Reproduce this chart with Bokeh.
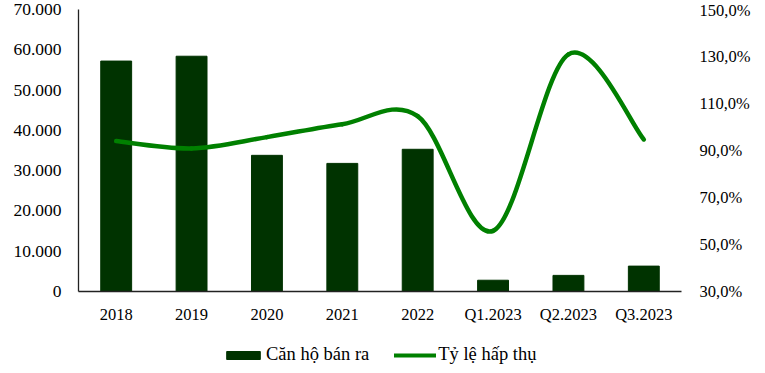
from bokeh.plotting import figure
from bokeh.layouts import column
from bokeh.models import (Range1d, LinearAxis, FixedTicker, Legend, LegendItem,
                          CustomJSTickFormatter, ColumnDataSource)
from bokeh.embed import file_html
from bokeh.resources import INLINE

categories = ["2018", "2019", "2020", "2021", "2022", "Q1.2023", "Q2.2023", "Q3.2023"]
units_sold = [57200, 58400, 33800, 31800, 35300, 2800, 4000, 6300]
absorption = [94.0, 90.9, 95.7, 101.2, 104.6, 55.8, 130.9, 94.7]
left_ticks = [0, 10000, 20000, 30000, 40000, 50000, 60000, 70000]
right_ticks = [30, 50, 70, 90, 110, 130, 150]
series_names = ["Căn hộ bán ra", "Tỷ lệ hấp thụ"]

FONT = "Liberation Serif"
BAR_COLOR = "#003300"
LINE_COLOR = "#008000"

xs = [i + 0.5 for i in range(len(categories))]

p = figure(width=765, height=335, output_backend="svg", toolbar_location=None,
           x_range=Range1d(0, len(categories)), y_range=Range1d(0, 70000),
           min_border_left=78, min_border_right=84, min_border_top=9, min_border_bottom=44)
p.outline_line_color = None
p.grid.visible = False
p.background_fill_color = "white"
p.border_fill_color = "white"

p.extra_y_ranges = {"pct": Range1d(30, 150)}

bar_src = ColumnDataSource(dict(x=xs, top=units_sold))
bars = p.vbar(x="x", top="top", width=0.41, source=bar_src, fill_color=BAR_COLOR,
              line_color=BAR_COLOR)

# smoothed line (Catmull-Rom style Bezier segments through the data points)
n = len(absorption)
bx0, by0, bx1, by1, cx0, cy0, cx1, cy1 = [], [], [], [], [], [], [], []
for i in range(n - 1):
    xp, yp = (xs[i - 1], absorption[i - 1]) if i > 0 else (xs[i], absorption[i])
    xn2, yn2 = (xs[i + 2], absorption[i + 2]) if i + 2 < n else (xs[i + 1], absorption[i + 1])
    bx0.append(xs[i]); by0.append(absorption[i])
    bx1.append(xs[i + 1]); by1.append(absorption[i + 1])
    cx0.append(xs[i] + (xs[i + 1] - xp) / 6); cy0.append(absorption[i] + (absorption[i + 1] - yp) / 6)
    cx1.append(xs[i + 1] - (xn2 - xs[i]) / 6); cy1.append(absorption[i + 1] - (yn2 - absorption[i]) / 6)
bez_src = ColumnDataSource(dict(x0=bx0, y0=by0, x1=bx1, y1=by1, cx0=cx0, cy0=cy0, cx1=cx1, cy1=cy1))
curve = p.bezier(x0="x0", y0="y0", x1="x1", y1="y1", cx0="cx0", cy0="cy0", cx1="cx1", cy1="cy1",
                 source=bez_src, line_color=LINE_COLOR, line_width=4.5, line_cap="round",
                 y_range_name="pct")

# x axis
xa = p.xaxis[0]
xa.ticker = FixedTicker(ticks=xs)
xa.major_label_overrides = {x: c for x, c in zip(xs, categories)}
xa.major_tick_in = 0
xa.major_tick_out = 0
xa.minor_tick_line_color = None
xa.axis_line_color = "#222222"
xa.axis_line_width = 1.5
xa.major_label_text_font = FONT
xa.major_label_text_font_size = "16.5px"
xa.major_label_text_color = "black"
xa.major_label_standoff = 13

# left axis
ya = p.yaxis[0]
ya.ticker = FixedTicker(ticks=left_ticks)
ya.formatter = CustomJSTickFormatter(code="return tick.toFixed(0).replace(/\\B(?=(\\d{3})+(?!\\d))/g, '.');")
ya.major_tick_in = 0
ya.major_tick_out = 0
ya.minor_tick_line_color = None
ya.axis_line_color = "#222222"
ya.axis_line_width = 1.3
ya.major_label_text_font = FONT
ya.major_label_text_font_size = "17.5px"
ya.major_label_text_color = "black"
ya.major_label_standoff = 17

# right axis
ra = LinearAxis(y_range_name="pct", ticker=FixedTicker(ticks=right_ticks))
ra.formatter = CustomJSTickFormatter(code="return tick.toFixed(1).replace('.', ',') + '%';")
ra.major_tick_in = 0
ra.major_tick_out = 0
ra.minor_tick_line_color = None
ra.axis_line_color = None
ra.major_label_text_font = FONT
ra.major_label_text_font_size = "16.5px"
ra.major_label_text_color = "black"
ra.major_label_text_align = "left"
ra.major_label_standoff = 18
p.add_layout(ra, "right")

# legend strip below the chart
lg = figure(width=765, height=38, output_backend="svg", toolbar_location=None,
            x_range=Range1d(0, 1), y_range=Range1d(0, 1), x_axis_type=None, y_axis_type=None,
            min_border_left=0, min_border_right=0, min_border_top=0, min_border_bottom=0)
lg.outline_line_color = None
lg.grid.visible = False
lg.border_fill_color = "white"
leg_bars = lg.vbar(x="x", top="top", width=0.41, source=bar_src, fill_color=BAR_COLOR,
                   line_color=BAR_COLOR, visible=False)
leg_curve = lg.bezier(x0="x0", y0="y0", x1="x1", y1="y1", cx0="cx0", cy0="cy0", cx1="cx1", cy1="cy1",
                      source=bez_src, line_color=LINE_COLOR, line_width=4, line_cap="round",
                      visible=False)
legend = Legend(items=[LegendItem(label=series_names[0], renderers=[leg_bars]),
                       LegendItem(label=series_names[1], renderers=[leg_curve])],
                orientation="horizontal", location=(144, 8))
legend.label_text_font = FONT
legend.label_text_font_size = "18.5px"
legend.label_text_color = "black"
legend.glyph_width = 42
legend.glyph_height = 10
legend.label_standoff = 2
legend.spacing = 25
legend.padding = 0
legend.margin = 0
legend.border_line_color = None
legend.background_fill_alpha = 0
lg.add_layout(legend, "center")

layout = column(p, lg, spacing=0)
open("out.html", "w").write(file_html(layout, INLINE))
